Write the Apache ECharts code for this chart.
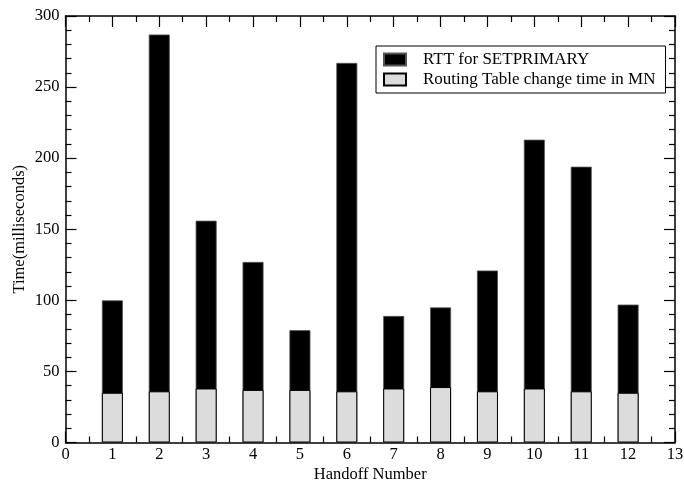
<!DOCTYPE html>
<html lang="en">
<head>
    <meta charset="UTF-8">
    <title>Handoff timing</title>
    <script src="https://cdn.jsdelivr.net/npm/echarts@6/dist/echarts.min.js"></script>
    <style>
        html, body { margin: 0; padding: 0; background: #fff; }
        #main { width: 684px; height: 481px; }
    </style>
</head>
<body>
    <div id="main"></div>
    <script>
    // data
    var handoffs = [1, 2, 3, 4, 5, 6, 7, 8, 9, 10, 11, 12];
    var rttSetPrimary = [100, 287, 156, 127, 79, 267, 89, 95, 121, 213, 194, 97];
    var routingChange = [35, 36, 38, 37, 37, 36, 38, 39, 36, 38, 36, 35];

    var font = 'Liberation Serif';

    function pairs(vals) {
        return handoffs.map(function (h, i) { return [h, vals[i]]; });
    }

    var myChart = echarts.init(document.getElementById('main'));

    // shared axis look: inward ticks, minor ticks, black lines
    var lineStyle = { color: '#000', width: 1.5 };
    function xAx(pos, labels) {
        return {
            type: 'value', position: pos, min: 0, max: 13, interval: 1,
            axisLine: { show: true, onZero: false, lineStyle: lineStyle },
            axisTick: { show: true, inside: true, length: 11, lineStyle: { color: '#000', width: 1.2 } },
            minorTick: { show: true, splitNumber: 2, length: 6, lineStyle: { color: '#000', width: 1.2 } },
            splitLine: { show: false },
            axisLabel: { show: labels, color: '#000', fontFamily: font, fontSize: 16.5, margin: 4 }
        };
    }
    function yAx(pos, labels) {
        return {
            type: 'value', position: pos, min: 0, max: 300, interval: 50,
            axisLine: { show: true, onZero: false, lineStyle: lineStyle },
            axisTick: { show: true, inside: true, length: 11, lineStyle: { color: '#000', width: 1.2 } },
            minorTick: { show: true, splitNumber: 5, length: 6, lineStyle: { color: '#000', width: 1.2 } },
            splitLine: { show: false },
            axisLabel: { show: labels, color: '#000', fontFamily: font, fontSize: 16.5, margin: 6 }
        };
    }

    var xBottom = xAx('bottom', true);
    xBottom.name = 'Handoff Number';
    xBottom.nameLocation = 'middle';
    xBottom.nameGap = 24;
    xBottom.nameMoveOverlap = false;
    xBottom.nameTextStyle = { color: '#000', fontFamily: font, fontSize: 16.5 };

    var yLeft = yAx('left', true);
    yLeft.name = 'Time(milliseconds)';
    yLeft.nameLocation = 'middle';
    yLeft.nameGap = 37;
    yLeft.nameMoveOverlap = false;
    yLeft.nameTextStyle = { color: '#000', fontFamily: font, fontSize: 16.5 };

    var option = {
        animation: false,
        backgroundColor: '#fff',
        grid: { left: 65.5, right: 9, top: 16, bottom: 38.5, outerBoundsMode: 'none' },
        legend: {
            orient: 'vertical',
            left: 376, top: 46,
            padding: [5, 10, 5, 7],
            itemGap: 3,
            itemWidth: 22, itemHeight: 12,
            backgroundColor: '#fff',
            borderColor: '#000', borderWidth: 1, borderRadius: 0,
            textStyle: { color: '#000', fontFamily: font, fontSize: 17, padding: [0, 0, 0, 12] },
            data: [
                { name: 'RTT for SETPRIMARY', icon: 'rect' },
                { name: 'Routing Table change time in MN', icon: 'rect' }
            ]
        },
        xAxis: [xBottom, xAx('top', false)],
        yAxis: [yLeft, yAx('right', false)],
        series: [
            {
                name: 'RTT for SETPRIMARY',
                type: 'bar',
                barWidth: 21,
                barGap: '-100%',
                data: pairs(rttSetPrimary),
                itemStyle: { color: '#000', borderColor: '#555', borderWidth: 0.8 }
            },
            {
                name: 'Routing Table change time in MN',
                type: 'bar',
                barWidth: 21,
                barGap: '-100%',
                data: pairs(routingChange),
                itemStyle: { color: '#dcdcdc', borderColor: '#000', borderWidth: 1 }
            }
        ]
    };

    myChart.setOption(option);
    </script>
</body>
</html>
